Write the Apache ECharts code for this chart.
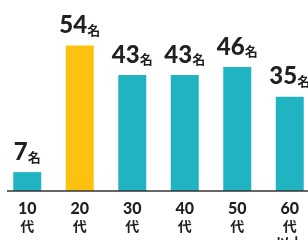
<!DOCTYPE html>
<html>
<head>
<meta charset="utf-8">
<script src="https://cdn.jsdelivr.net/npm/echarts@6/dist/echarts.min.js"></script>
<style>
  html, body { margin: 0; padding: 0; background: #fff; }
  #chart { width: 308px; height: 240px; }
</style>
</head>
<body>
<div id="chart"></div>
<script>
var ages = ['10', '20', '30', '40', '50', '60'];
var ageSuffix = ['代', '代', '代', '代', '代', '代\n以上'];
var counts = [7, 54, 43, 43, 46, 35];
var highlightIndex = 1;

var teal = '#20b4c3';
var yellow = '#fdc20f';
var ink = '#231f20';
var numFont = 'Lato, Roboto, sans-serif';
var cjkFont = '"Noto Sans CJK JP", sans-serif';

var chart = echarts.init(document.getElementById('chart'));

var barData = counts.map(function (v, i) {
    return {
        value: v,
        itemStyle: { color: i === highlightIndex ? yellow : teal }
    };
});

chart.setOption({
    animation: false,
    grid: { left: 1, top: 40, width: 315, bottom: 49, outerBoundsMode: 'none', containLabel: false },
    xAxis: {
        type: 'category',
        data: ages,
        axisTick: { show: false },
        axisLine: { show: false },
        axisLabel: {
            interval: 0,
            margin: 10,
            formatter: function (val, idx) {
                return '{n|' + val + '}\n{k|' + ageSuffix[idx].split('\n').join('}\n{k|') + '}';
            },
            rich: {
                n: { fontSize: 16, fontWeight: 900, color: ink, lineHeight: 16, fontFamily: numFont },
                k: { fontSize: 14, fontWeight: 'bold', color: ink, lineHeight: 17, fontFamily: cjkFont }
            }
        }
    },
    yAxis: {
        type: 'value',
        min: 0,
        max: 56,
        show: false
    },
    series: [{
        type: 'bar',
        data: barData,
        barWidth: 28,
        label: {
            show: true,
            position: 'top',
            distance: 9,
            formatter: '{n|{c}}{u|名}',
            rich: {
                n: { fontSize: 24, fontWeight: 900, color: ink, lineHeight: 22, fontFamily: numFont },
                u: { fontSize: 13, fontWeight: 'bold', color: ink, lineHeight: 19, verticalAlign: 'bottom',
                     fontFamily: cjkFont }
            }
        }
    }]
});

// baseline under the bars, starting a little in from the left edge
var baseY = chart.convertToPixel({ yAxisIndex: 0 }, 0);
chart.setOption({
    graphic: [{
        type: 'line',
        shape: { x1: 7, y1: baseY, x2: 308, y2: baseY },
        style: { stroke: '#333', lineWidth: 1.5 },
        z: 10
    }]
});
</script>
</body>
</html>
